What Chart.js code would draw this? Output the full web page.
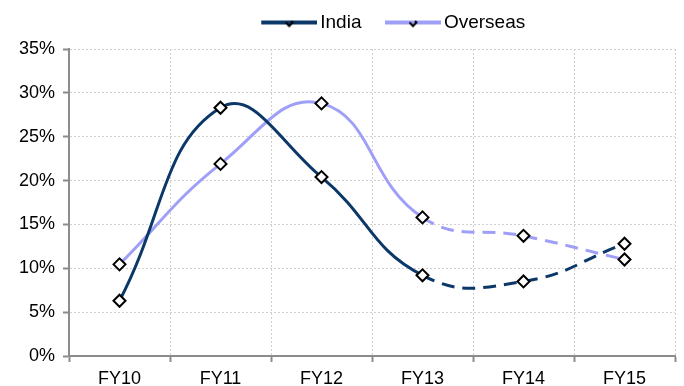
<!DOCTYPE html>
<html>
<head>
<meta charset="utf-8">
<script src="https://cdn.jsdelivr.net/npm/chart.js@4/dist/chart.umd.min.js"></script>
<style>
    html, body { margin: 0; padding: 0; background: #fff; }
    #wrap { width: 684px; height: 386px; }
</style>
</head>
<body>
<div id="wrap"><canvas id="growthChart"></canvas></div>
<script>
const years = ['FY10', 'FY11', 'FY12', 'FY13', 'FY14', 'FY15'];
const india = [6.3, 28.3, 20.4, 9.2, 8.5, 12.8];
const overseas = [10.45, 21.9, 28.8, 15.8, 13.7, 11.0];
const yTicks = [0, 5, 10, 15, 20, 25, 30, 35];

const FONT = '"Liberation Sans", Arial, sans-serif';
const INDIA_COLOR = '#0b3868';
const OVERSEAS_COLOR = '#9f9ff8';
const FORECAST_FROM = 3; // FY13 onward is dashed

// legend swatch: line with a clipped diamond, like the original
// (16px of empty space on the left gives the gap between the two entries)
function legendSwatch(color) {
    const c = document.createElement('canvas');
    c.width = 72;
    c.height = 14;
    const g = c.getContext('2d');
    g.strokeStyle = color;
    g.lineWidth = 4;
    g.beginPath();
    g.moveTo(16, 7);
    g.lineTo(72, 7);
    g.stroke();
    g.strokeStyle = '#000';
    g.lineWidth = 2;
    g.beginPath();
    g.moveTo(40.5, 7);
    g.lineTo(44, 10.5);
    g.lineTo(47.5, 7);
    g.lineTo(46, 5.5);
    g.stroke();
    return c;
}

function makeDataset(label, values, color) {
    return {
        label: label,
        data: values,
        borderColor: color,
        backgroundColor: color,
        borderWidth: 3,
        tension: 0.45,
        fill: false,
        pointStyle: 'rectRot',
        pointRadius: 6,
        pointHoverRadius: 6,
        pointBorderWidth: 2,
        pointBorderColor: '#000',
        pointBackgroundColor: '#fff',
        legendSwatch: legendSwatch(color),
        segment: {
            borderDash: ctx => ctx.p0DataIndex >= FORECAST_FROM ? [13, 8] : undefined
        }
    };
}

const ctx = document.getElementById('growthChart').getContext('2d');

new Chart(ctx, {
    type: 'line',
    data: {
        labels: years,
        datasets: [
            makeDataset('India', india, INDIA_COLOR),
            makeDataset('Overseas', overseas, OVERSEAS_COLOR)
        ]
    },
    options: {
        responsive: true,
        maintainAspectRatio: false,
        animation: false,
        layout: {
            padding: { top: 6, right: 9, left: 0, bottom: 0 }
        },
        plugins: {
            tooltip: { enabled: false },
            legend: {
                position: 'top',
                align: 'center',
                labels: {
                    usePointStyle: true,
                    pointStyleWidth: 59,
                    padding: 14,
                    color: '#000',
                    font: { family: FONT, size: 19 },
                    generateLabels: chart => chart.data.datasets.map((ds, i) => ({
                        text: ds.label,
                        pointStyle: ds.legendSwatch,
                        fontColor: '#000',
                        lineWidth: 0,
                        hidden: false,
                        datasetIndex: i
                    }))
                }
            }
        },
        scales: {
            x: {
                offset: true,
                afterFit: scale => { scale.height = 30; },
                grid: {
                    offset: true,
                    color: '#d0d0d0',
                    lineWidth: 1,
                    tickLength: 6,
                    tickColor: '#8c8c8c',
                    tickWidth: 2,
                    tickBorderDash: [1, 0]
                },
                border: { color: '#8c8c8c', width: 2, dash: [2, 2] },
                ticks: {
                    color: '#000',
                    padding: 6,
                    font: { family: FONT, size: 18 }
                }
            },
            y: {
                min: 0,
                max: 35,
                afterFit: scale => { scale.width = 69; },
                afterBuildTicks: scale => {
                    scale.ticks = yTicks.map(v => ({ value: v }));
                },
                grid: {
                    color: '#d0d0d0',
                    lineWidth: 1,
                    tickLength: 6,
                    tickColor: '#8c8c8c',
                    tickWidth: 2,
                    tickBorderDash: [1, 0]
                },
                border: { color: '#8c8c8c', width: 2, dash: [2, 2] },
                ticks: {
                    color: '#000',
                    padding: 8,
                    font: { family: FONT, size: 18 },
                    callback: v => v + '%'
                }
            }
        }
    },
    plugins: [{
        // the original legend sits right of centre and a little higher
        id: 'legendOffset',
        afterLayout(chart) {
            const lg = chart.legend;
            const dx = 51, dy = -7;
            lg.left += dx; lg.right += dx;
            lg.top += dy; lg.bottom += dy;
        }
    }]
});
</script>
</body>
</html>
